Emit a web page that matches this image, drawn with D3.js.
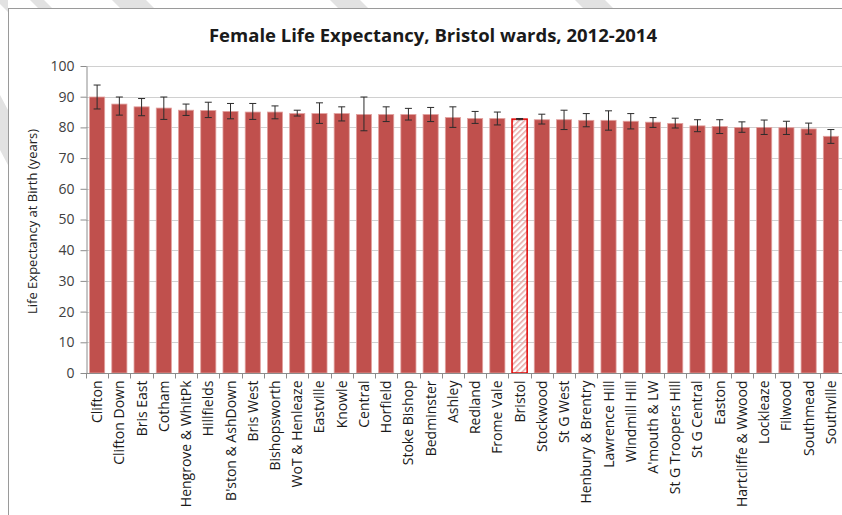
<!DOCTYPE html>
<meta charset="utf-8">
<style>
    body { margin: 0; background: #fff; }
    svg { display: block; }
    text { font-family: "Open Sans", "Noto Sans", sans-serif; fill: #333; }
    .grid line { stroke: #d0d0d0; stroke-width: 1; }
    .axis path, .axis line { stroke: #8c8c8c; }
    .axis text { fill: #404040; }
    .err line { stroke: #2b2b2b; stroke-width: 1; }
</style>
<body>
<script src="https://cdn.jsdelivr.net/npm/d3@7"></script>
<script>
    // wards, sorted as in the chart
    var wards = ["Clifton", "Clifton Down", "Bris East", "Cotham", "Hengrove & WhitPk", "Hillfields",
        "B'ston & AshDown", "Bris West", "Bishopsworth", "WoT & Henleaze", "Eastville", "Knowle",
        "Central", "Horfield", "Stoke Bishop", "Bedminster", "Ashley", "Redland", "Frome Vale",
        "Bristol", "Stockwood", "St G West", "Henbury & Brentry", "Lawrence Hill", "Windmill Hill",
        "A'mouth & LW", "St G Troopers Hill", "St G Central", "Easton", "Hartcliffe & Wwood",
        "Lockleaze", "Filwood", "Southmead", "Southville"];

    var lifeExp = [89.9, 87.6, 86.7, 86.3, 85.6, 85.5, 85.2, 85.0, 85.0, 84.5, 84.5, 84.5,
        84.2, 84.2, 84.2, 84.2, 83.2, 82.9, 82.9, 82.7, 82.5, 82.5, 82.3, 82.3, 82.0,
        81.7, 81.3, 80.5, 80.3, 80.0, 80.0, 79.9, 79.5, 77.1];

    var ciLow = [86.0, 84.0, 83.8, 82.6, 83.9, 83.2, 82.8, 82.6, 82.8, 83.7, 81.3, 82.1,
        78.9, 81.9, 82.4, 81.9, 80.0, 81.3, 80.8, 82.5, 81.1, 79.3, 80.2, 79.1, 79.5,
        80.0, 79.8, 78.6, 78.0, 78.4, 77.7, 77.7, 77.8, 74.8];

    var ciHigh = [93.8, 89.9, 89.4, 89.9, 87.6, 88.2, 87.8, 87.8, 87.0, 85.6, 88.0, 86.7,
        89.9, 86.7, 86.2, 86.5, 86.7, 85.2, 85.0, 82.9, 84.3, 85.6, 84.5, 85.4, 84.5,
        83.2, 83.0, 82.5, 82.5, 81.8, 82.4, 82.0, 81.4, 79.3];

    var yTicks = [0, 10, 20, 30, 40, 50, 60, 70, 80, 90, 100];
    var highlight = "Bristol";

    var W = 842, H = 515;
    var margin = {top: 66, right: 0, bottom: 142, left: 86};
    var width = W - margin.left - margin.right,
        height = H - margin.top - margin.bottom;

    var svg = d3.select("body").append("svg")
        .attr("width", W)
        .attr("height", H);

    var defs = svg.append("defs");
    defs.append("pattern")
        .attr("id", "hatch")
        .attr("patternUnits", "userSpaceOnUse")
        .attr("width", 4).attr("height", 4)
        .attr("patternTransform", "rotate(45)")
      .append("rect")
        .attr("width", 1.6).attr("height", 4)
        .attr("fill", "#e8a8a6");

    // screenshot backdrop: faint diagonal stripes outside the chart frame
    var back = svg.append("g").attr("fill", "#e2e2e2");
    [[30, 14], [112, 34], [330, 30], [575, 30]].forEach(function(s) {
        back.append("path")
            .attr("d", "M" + s[0] + ",0h" + s[1] + "l8,8h-" + s[1] + "z");
    });
    back.append("path").attr("d", "M0,95L8,110L8,165L0,150Z");
    back.append("path").attr("d", "M0,0L8,0L8,12L0,4Z");

    // frame
    svg.append("rect")
        .attr("x", 8.5).attr("y", 8.5)
        .attr("width", W).attr("height", H)
        .attr("fill", "#fff")
        .attr("stroke", "#9a9a9a");

    svg.append("text")
        .attr("x", 433)
        .attr("y", 42)
        .attr("text-anchor", "middle")
        .style("font-size", "18.5px")
        .style("font-weight", "bold")
        .style("fill", "#1a1a1a")
        .text("Female Life Expectancy, Bristol wards, 2012-2014");

    var x = d3.scaleBand()
        .domain(wards)
        .range([0, width])
        .paddingInner(0.32)
        .paddingOuter(0.16);

    var y = d3.scaleLinear()
        .domain([0, 100])
        .range([height, 0]);

    var g = svg.append("g")
        .attr("transform", "translate(" + margin.left + "," + margin.top + ")");

    g.append("g")
        .attr("class", "grid")
        .selectAll("line")
        .data(yTicks.slice(1))
        .enter().append("line")
        .attr("x1", 0).attr("x2", width)
        .attr("y1", function(d) { return Math.round(y(d)) + 0.5; })
        .attr("y2", function(d) { return Math.round(y(d)) + 0.5; });

    var yAxis = g.append("g")
        .attr("class", "axis")
        .attr("transform", "translate(0.5,0)")
        .call(d3.axisLeft(y).tickValues(yTicks).tickSize(6).tickSizeOuter(0).tickPadding(6));
    yAxis.selectAll("text").style("font-size", "14px");

    svg.append("text")
        .attr("transform", "translate(37," + (margin.top + height / 2 + 2) + ") rotate(-90)")
        .attr("text-anchor", "middle")
        .style("font-size", "13px")
        .style("fill", "#222")
        .text("Life Expectancy at Birth (years)");

    var data = wards.map(function(w, i) {
        return {ward: w, value: lifeExp[i], lo: ciLow[i], hi: ciHigh[i]};
    });

    g.append("g")
        .selectAll("rect")
        .data(data)
        .enter().append("rect")
        .attr("x", function(d) { return x(d.ward); })
        .attr("width", x.bandwidth())
        .attr("y", function(d) { return y(d.value); })
        .attr("height", function(d) { return y(0) - y(d.value); })
        .attr("fill", function(d) { return d.ward === highlight ? "url(#hatch)" : "#c0504d"; })
        .attr("stroke", function(d) { return d.ward === highlight ? "#e00000" : "#e2a19f"; })
        .attr("stroke-width", function(d) { return d.ward === highlight ? 1.5 : 0.8; });

    var err = g.append("g")
        .attr("class", "err")
        .selectAll("g")
        .data(data)
        .enter().append("g")
        .attr("transform", function(d) {
            return "translate(" + (x(d.ward) + x.bandwidth() / 2) + ",0)";
        });
    err.append("line")
        .attr("y1", function(d) { return y(d.lo); })
        .attr("y2", function(d) { return y(d.hi); });
    err.append("line")
        .attr("x1", -3.5).attr("x2", 3.5)
        .attr("y1", function(d) { return y(d.hi); })
        .attr("y2", function(d) { return y(d.hi); });
    err.append("line")
        .attr("x1", -3.5).attr("x2", 3.5)
        .attr("y1", function(d) { return y(d.lo); })
        .attr("y2", function(d) { return y(d.lo); });

    // x axis: ticks sit between categories
    var xAxis = g.append("g")
        .attr("class", "axis")
        .attr("transform", "translate(0," + (height + 0.5) + ")");
    xAxis.append("line")
        .attr("x1", 0).attr("x2", width);
    xAxis.selectAll("line.tk")
        .data(wards)
        .enter().append("line")
        .attr("class", "tk")
        .attr("x1", function(d) { return Math.round(x(d) - x.step() * x.paddingInner() / 2) + 0.5; })
        .attr("x2", function(d) { return Math.round(x(d) - x.step() * x.paddingInner() / 2) + 0.5; })
        .attr("y1", 0).attr("y2", 5);
    xAxis.selectAll("text")
        .data(wards)
        .enter().append("text")
        .attr("transform", function(d) {
            return "translate(" + (x(d) + x.bandwidth() / 2 + 5) + ",7) rotate(-90)";
        })
        .attr("text-anchor", "end")
        .style("font-size", "14px")
        .style("fill", "#1a1a1a")
        .text(function(d) { return d; });
</script>
</body>
